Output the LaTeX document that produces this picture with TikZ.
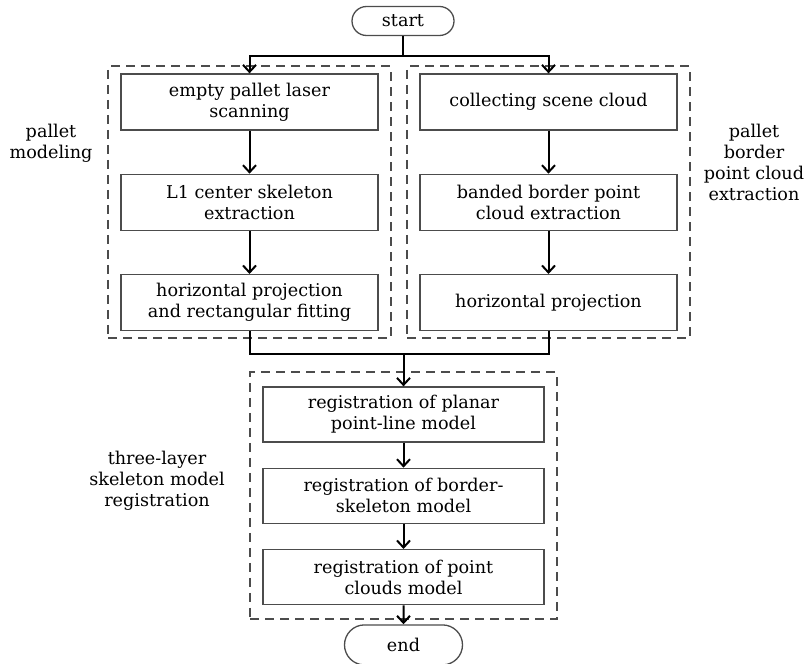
\documentclass[tikz,border=0pt]{standalone}
\usepackage{fontspec}
\setmainfont{DejaVu Serif}
\usetikzlibrary{positioning,arrows.meta,fit,shapes.misc}

\begin{document}
\begin{tikzpicture}[x=0.5pt,y=-0.5pt,
    font=\fontsize{8.8}{10.5}\selectfont,
    box/.style={draw=black!70, line width=0.65pt, minimum width=128.5pt,
      minimum height=28pt, align=center, inner sep=0pt},
    regbox/.style={box, minimum width=140.5pt, minimum height=27.5pt},
    terminal/.style={draw=black!70, line width=0.65pt, rounded rectangle, inner sep=0pt},
    groupframe/.style={draw=black!70, line width=1pt, dash pattern=on 4.5pt off 3pt},
    flow/.style={line width=1pt},
    flowarrow/.style={flow, -{Straight Barb[length=3.5pt,width=6.5pt]}},
    sidetext/.style={align=center},
    node distance=21.5pt]
  \useasboundingbox (0,0) rectangle (807,663);

  % Inizio
  \node[terminal, minimum width=51pt, minimum height=14.5pt] (start) at (403,21) {start};
  \coordinate[below=10pt of start.south] (split);

  % Colonna sinistra
  \node[box] (l1) at (249.5,102) {empty pallet laser\\scanning};
  \node[box, below=of l1] (l2) {L1 center skeleton\\extraction};
  \node[box, below=of l2] (l3) {horizontal projection\\and rectangular fitting};

  % Colonna destra
  \node[box] (r1) at (548.5,102) {collecting scene cloud};
  \node[box, below=of r1] (r2) {banded border point\\cloud extraction};
  \node[box, below=of r2] (r3) {horizontal projection};

  % Registrazione
  \node[regbox] (b1) at (403.5,414.5) {registration of planar\\point-line model};
  \node[regbox, below=12.5pt of b1] (b2) {registration of border-\\skeleton model};
  \node[regbox, below=12.5pt of b2] (b3) {registration of point\\clouds model};
  \node[terminal, minimum width=59pt, minimum height=20pt, below=9.5pt of b3] (end) {end};
  \coordinate[above=16pt of b1.north] (merge);

  % Riquadri tratteggiati
  \node[groupframe, inner xsep=6pt, inner ysep=3.5pt, fit=(l1)(l3)] (modelframe) {};
  \node[groupframe, inner xsep=6pt, inner ysep=3.5pt, fit=(r1)(r3)] (borderframe) {};
  \node[groupframe, inner xsep=6pt, inner ysep=7pt, fit=(b1)(b3)] (regframe) {};

  % Annotazioni
  \node[sidetext] (modeltext) at (51,143) {pallet\\modeling};
  \node[sidetext] (bordertext) at (754,162) {pallet\\border\\point cloud\\extraction};
  \node[sidetext] (regtext) at (157,481) {three-layer\\skeleton model\\registration};

  % Frecce
  \draw[flow] (start.south) -- (split);
  \draw[flowarrow] (split) -| (l1.north);
  \draw[flowarrow] (split) -| (r1.north);
  \draw[flowarrow] (l1) -- (l2);
  \draw[flowarrow] (l2) -- (l3);
  \draw[flowarrow] (r1) -- (r2);
  \draw[flowarrow] (r2) -- (r3);
  \draw[flow] (l3.south) |- (merge);
  \draw[flow] (r3.south) |- (merge);
  \draw[flowarrow] (merge) -- (b1.north);
  \draw[flowarrow] (b1) -- (b2);
  \draw[flowarrow] (b2) -- (b3);
  \draw[flowarrow] (b3) -- (end);
\end{tikzpicture}
\end{document}
